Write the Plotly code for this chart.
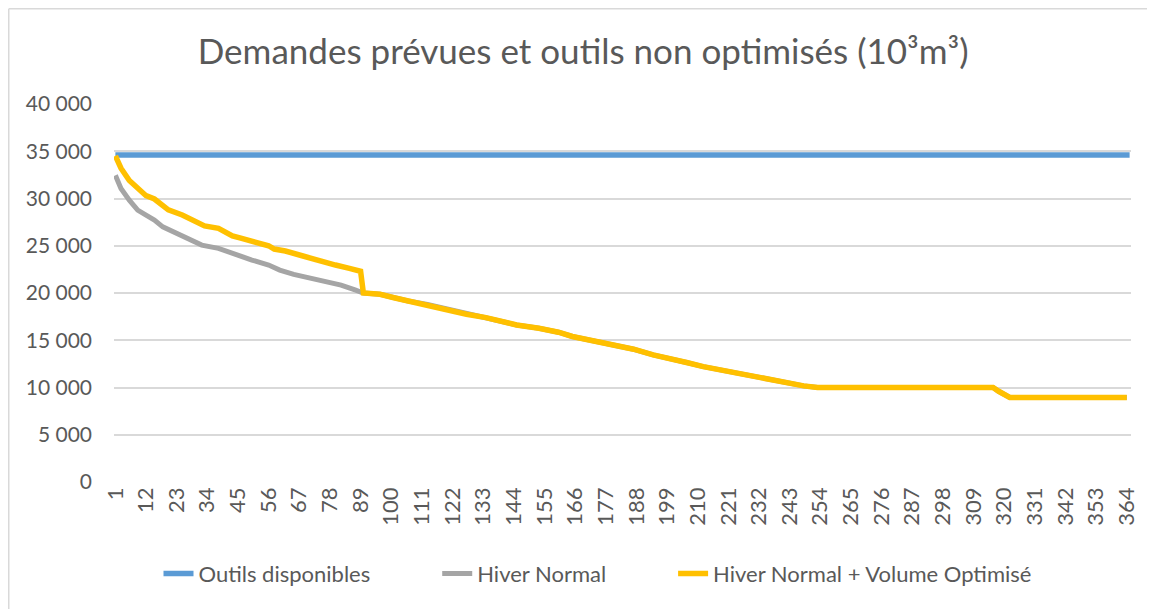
import plotly.graph_objects as go

# Values (day of year -> 10^3 m^3)
outils_days = [1, 365]
outils_values = [34600, 34600]

hiver_days = [1, 3, 6, 9, 12, 15, 18, 22, 27, 32, 38, 43, 50, 56, 60, 65, 72, 76, 82, 87, 90]
hiver_values = [32450, 31060, 29830, 28770, 28240, 27710, 27000, 26480, 25780, 25070, 24720,
                24190, 23490, 22960, 22430, 21970, 21480, 21270, 20840, 20320, 20000]

optim_days = [1, 3, 6, 9, 12, 15, 18, 20, 25, 30, 33, 38, 43, 46, 50, 56, 58, 62, 68, 73, 76,
              80, 85, 89, 90]
optim_values = [34500, 33200, 31900, 31050, 30300, 29950, 29250, 28800, 28250, 27600, 27100,
                26850, 26050, 25800, 25490, 25000, 24650, 24440, 23940, 23490, 23310, 22960,
                22610, 22300, 20000]

# after day 90 both winter series coincide
tail_days = [96, 101, 106, 113, 119, 127, 134, 139, 145, 153, 160, 165, 171, 176, 181, 187,
             194, 200, 206, 212, 218, 223, 229, 235, 242, 248, 253, 316, 318, 320, 322, 364]
tail_values = [19860, 19500, 19150, 18800, 18380, 17750, 17390, 17040, 16620, 16270, 15850,
               15400, 15050, 14750, 14400, 14050, 13450, 13100, 12640, 12210, 11860, 11520,
               11160, 10880, 10460, 10170, 10000, 10000, 9600, 9200, 8950, 8950]

tick_days = [1, 12, 23, 34, 45, 56, 67, 78, 89, 100, 111, 122, 133, 144, 155, 166, 177, 188,
             199, 210, 221, 232, 243, 254, 265, 276, 287, 298, 309, 320, 331, 342, 353, 364]

FONT = "Lato"
TXT = "#595959"
GRID = "#D9D9D9"
PAD = "\u00a0" * 11  # spacing between legend entries, as in the Excel legend

fig = go.Figure()

fig.add_trace(go.Scatter(
    x=outils_days, y=outils_values, mode="lines", name="Outils disponibles" + PAD,
    line=dict(color="#5B9BD5", width=5.5),
))
fig.add_trace(go.Scatter(
    x=hiver_days + tail_days, y=hiver_values + tail_values, mode="lines",
    name="Hiver Normal" + PAD,
    line=dict(color="#A5A5A5", width=5),
))
fig.add_trace(go.Scatter(
    x=optim_days + tail_days, y=optim_values + tail_values, mode="lines",
    name="Hiver Normal + Volume Optimisé",
    line=dict(color="#FFC000", width=5.5),
))

# plot area in figure pixels
L, R, T, B = 106, 1123, 96, 474.3
pw, ph = R - L, B - T

# chart-area border (left and top edges of the Excel frame)
x_left = (0.75 - L) / pw
y_top = (B - 0.75) / ph
fig.add_shape(type="line", xref="paper", yref="paper", x0=x_left, x1=x_left,
              y0=(B - 620) / ph, y1=y_top, line=dict(color=GRID, width=1.5))
fig.add_shape(type="line", xref="paper", yref="paper", x0=x_left, x1=(1170 - L) / pw,
              y0=y_top, y1=y_top, line=dict(color=GRID, width=1.5))

fig.update_layout(
    width=1155,
    height=609,
    autosize=False,
    separators=", ",
    font=dict(family=FONT, color=TXT, size=22),
    title=dict(
        text="Demandes prévues et outils non optimisés (10³m³)",
        x=0.498, xanchor="center", y=1 - 44 / 609, yanchor="middle",
        font=dict(size=35, color=TXT),
    ),
    xaxis=dict(
        range=[0.5, 365.5],
        tickvals=tick_days,
        ticktext=[str(d) for d in tick_days],
        tickangle=-90,
        showgrid=False,
        zeroline=False,
        showline=False,
        tickfont=dict(size=22, color=TXT),
        automargin=False,
    ),
    yaxis=dict(
        range=[0, 40000],
        dtick=5000,
        tickformat=",d",
        showgrid=True,
        gridcolor=GRID,
        gridwidth=1.5,
        zeroline=False,
        tickfont=dict(size=21, color=TXT),
        ticklabelstandoff=21,
        automargin=False,
    ),
    legend=dict(
        orientation="h",
        x=(589.5 - L) / pw, xanchor="center",
        y=(B - 566) / ph, yanchor="middle",
        font=dict(size=22, color=TXT),
    ),
    plot_bgcolor="white",
    paper_bgcolor="white",
    margin=dict(l=L, r=1155 - R, t=T, b=609 - B, autoexpand=False),
)

fig.write_html("out.html", config={"displayModeBar": False})
